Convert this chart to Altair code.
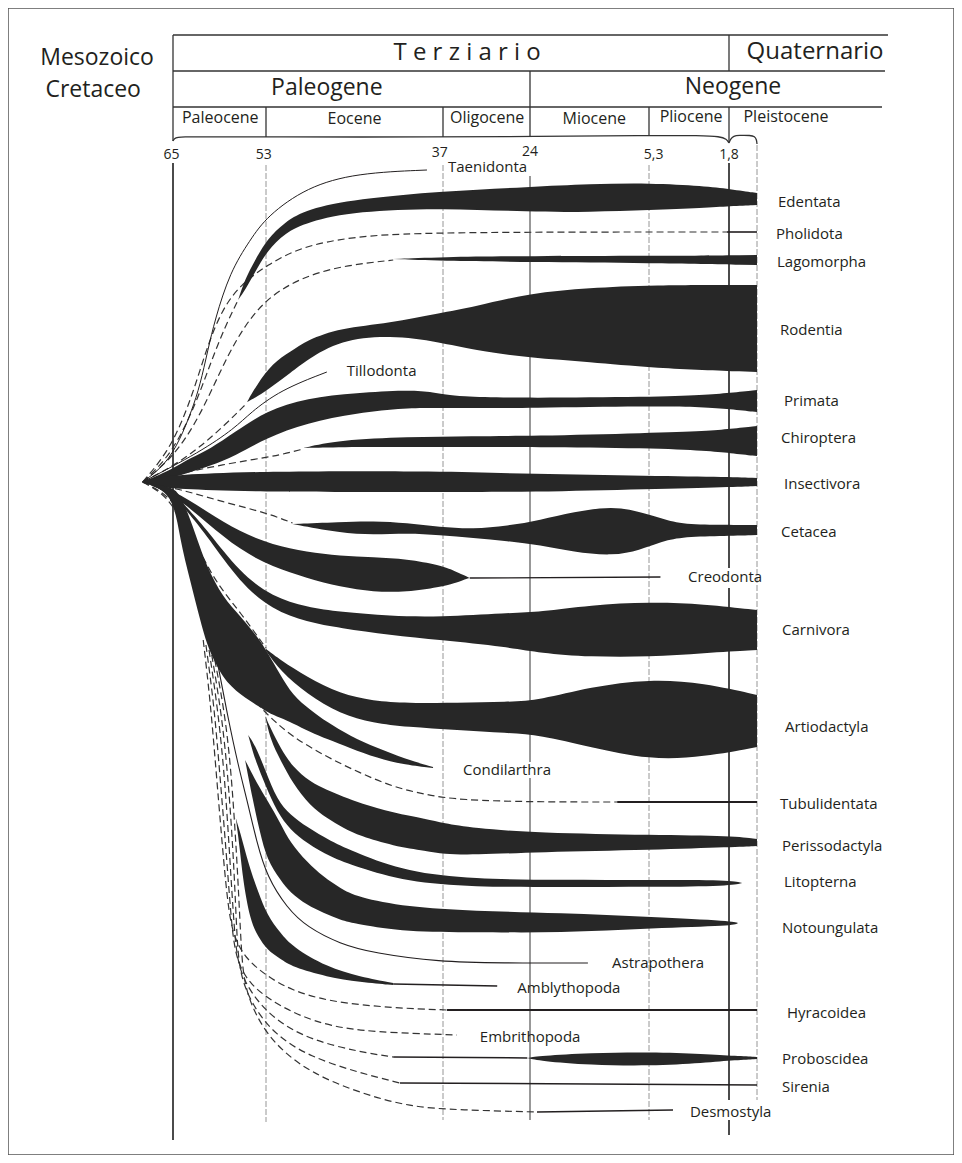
import altair as alt
import pandas as pd

INK = "#231f20"
SPINDLE = "#272727"
FONT = "Open Sans"

# ---------------- header / time scale values ----------------
TICK_T = [65.2, 53.3, 37.3, 24.0, 5.1, 1.8]
TICK_Y = [155, 155, 153, 152, 155, 155]
TICK_LABEL = ["65", "53", "37", "24", "5,3", "1,8"]

HEAD_TEXT = ["Mesozoico", "Cretaceo", "T e r z i a r i o", "Quaternario", "Paleogene", "Neogene"]
HEAD_T = [74.8, 75.3, 33.4, -4.06, 47.5, 1.54]
HEAD_Y = [58, 90, 53, 52, 88, 87]
HEAD_SIZE = [23, 23, 24, 24, 23, 23]

EPOCHS = ["Paleocene", "Eocene", "Oligocene", "Miocene", "Pliocene", "Pleistocene"]
EPOCH_T = [58.9, 45.0, 30.4, 13.9, 3.46, -2.03]
EPOCH_Y = [118, 119, 118, 119, 117, 117]

# header frame lines
HL_T1 = [65, 65, 65]
HL_T2 = [-9.16, -8.95, -8.74]
HL_Y = [35, 71, 107]
HV_T = [65, 1.8, 24, 53, 37, 5.3, 1.8]
HV_Y1 = [35, 35, 71, 107, 107, 107, 107]
HV_Y2 = [141, 71, 137, 137, 137, 135, 142]
BRACE_L = [(65.0, 141), (64.85, 138.5), (64.4, 137.2), (63.5, 136.8), (62.0, 136.8), (53, 137),
           (37, 137), (24, 136.5), (5.3, 135.5), (3.0, 135.5), (2.2, 136.5), (1.9, 139), (1.8, 143)]
BRACE_R = [(1.8, 143), (1.7, 139), (1.5, 136), (1.2, 135.3), (0.4, 135.3), (0.15, 136.5),
           (0.03, 139.5), (0.0, 144)]

# vertical time lines (time, top, bottom, style)
VL_T = [65, 53, 37, 24, 24, 5.3, 1.8, 1.8, 1.8, 0]
VL_Y1 = [163, 165, 165, 176, 778, 165, 163, 588, 1120, 145]
VL_Y2 = [1140, 1122, 1120, 762, 1120, 1120, 568, 1100, 1135, 1100]
VL_KIND = ["solid", "dotted", "dotted", "thin", "thin", "dotted", "solid", "solid", "solid", "dotted"]

# ---------------- spindles: (Ma, upper edge, lower edge) ----------------
SPINDLES = {
    "Edentata": [(56.6, 300, 300), (55.7, 279, 290), (54.4, 260, 272), (52.9, 239, 251), (51.3, 222, 233),
                 (49.3, 209, 222), (44.8, 199, 211), (37.0, 191, 208), (24.0, 187, 212), (14.6, 184, 212),
                 (5.25, 183, 210), (2.9, 186, 208), (1.75, 189, 206), (0.0, 193, 205)],
    "Lagomorpha": [(41.5, 259, 259), (37.3, 257, 261), (24.0, 256, 262), (5.25, 256, 263), (0.0, 255, 265)],
    "Rodentia": [(55.45, 402, 402), (54.2, 385, 397), (52.4, 363, 386), (50.8, 352, 373), (49.3, 340, 360),
                 (46.3, 328, 340), (41.8, 323, 335), (37.3, 313, 342), (32.5, 307, 350), (24.0, 293, 358),
                 (14.6, 288, 362), (5.25, 285, 368), (0.0, 285, 372)],
    "Primata": [(68.9, 482, 482), (65.0, 469, 478), (62.8, 458, 472), (60.2, 449, 466), (57.0, 432, 456),
                (53.0, 411, 438), (49.3, 398, 423), (44.8, 393, 413), (40.25, 390, 408), (37.9, 392, 408),
                (34.9, 397, 408), (24.0, 398, 408), (5.25, 397, 406), (2.9, 395, 407), (1.75, 393, 409),
                (0.0, 390, 412)],
    "Chiroptera": [(49.65, 448, 448), (46.3, 440, 447), (40.25, 437, 447), (32.5, 436, 447), (24.0, 436, 447),
                   (5.25, 433, 448), (2.75, 431, 451), (1.75, 429, 453), (0.0, 426, 456)],
    "Insectivora": [(68.9, 481, 483), (67.06, 478, 486), (65.0, 475, 489), (53.0, 471, 492), (37.0, 471, 492),
                    (24.0, 474, 492), (5.25, 476, 489), (1.75, 477, 487), (0.0, 478, 486)],
    "Cetacea": [(50.6, 524, 524), (46.3, 522, 533), (43.3, 521, 535), (40.25, 523, 533), (37.3, 527, 535),
                (32.5, 529, 538), (27.4, 526, 541), (22.4, 520, 545), (17.2, 512, 552), (11.0, 506, 556),
                (6.7, 512, 550), (4.8, 518, 542), (3.95, 524, 537), (2.2, 525, 536), (0.0, 525, 535)],
    "Creodonta": [(68.9, 482, 482), (65.0, 489, 494), (60.6, 512, 523), (56.35, 532, 550), (52.4, 545, 567),
                  (49.3, 552, 578), (46.3, 556, 587), (43.3, 557, 592), (40.25, 559, 592), (37.3, 565, 587),
                  (35.2, 571, 583), (34.0, 575, 580), (33.0, 578, 578)],
    "Carnivora": [(68.9, 482, 482), (65.0, 492, 494), (62.8, 511, 515), (60.6, 530, 536), (56.35, 573, 583),
                  (52.4, 597, 610), (49.3, 607, 622), (46.3, 612, 628), (41.8, 616, 635), (37.3, 617, 640),
                  (27.4, 613, 647), (22.4, 612, 653), (14.6, 605, 657), (5.25, 602, 657), (2.9, 604, 653),
                  (0.0, 610, 650)],
    "Artiodactyla": [(53.0, 649, 651), (51.7, 660, 671), (49.3, 677, 694), (46.3, 694, 714), (43.3, 701, 723),
                     (40.25, 703, 727), (34.9, 703, 730), (27.4, 702, 733), (22.4, 700, 735), (14.6, 687, 747),
                     (5.25, 679, 760), (2.9, 683, 757), (0.0, 695, 747)],
    "Condilarthra": [(68.9, 482, 482), (65.0, 487, 492), (64.1, 495, 540), (62.8, 518, 580), (61.5, 548, 620),
                     (60.6, 566, 645), (59.6, 582, 662), (58.55, 596, 677), (57.4, 607, 687), (56.35, 616, 694),
                     (55.06, 628, 701), (53.8, 640, 707), (52.9, 652, 712), (51.7, 675, 718), (50.6, 695, 723),
                     (49.0, 710, 732), (47.5, 722, 739), (45.4, 736, 748), (42.97, 748, 758), (40.4, 759, 765),
                     (37.9, 767, 768)],
    "Perissodactyla": [(53.1, 716, 716), (52.6, 728, 740), (51.7, 748, 760), (50.6, 767, 783), (49.0, 782, 806),
                       (47.5, 790, 818), (46.0, 797, 828), (44.5, 803, 836), (41.5, 813, 846), (38.45, 819, 851),
                       (37.0, 823, 854), (32.5, 828, 855), (22.9, 833, 852), (5.1, 835, 850), (1.55, 836, 847),
                       (0.0, 839, 846)],
    "Litopterna": [(55.3, 735, 735), (54.4, 745, 760), (53.1, 770, 785), (52.0, 800, 812), (50.8, 815, 830),
                   (49.3, 827, 843), (47.2, 841, 857), (44.8, 853, 867), (40.25, 872, 882), (32.5, 879, 887),
                   (19.3, 880, 887), (5.1, 880, 887), (1.75, 880, 886), (0.95, 883, 883)],
    "Notoungulata": [(55.7, 760, 760), (54.7, 775, 800), (53.8, 788, 832), (52.9, 800, 860), (51.7, 823, 880),
                     (50.8, 843, 893), (49.3, 862, 905), (47.8, 877, 913), (46.3, 888, 920), (44.8, 897, 924),
                     (40.25, 907, 932), (32.5, 911, 932), (19.3, 913, 933), (5.1, 917, 928), (1.55, 921, 926),
                     (1.22, 923, 923)],
    "Amblythopoda": [(56.9, 818, 818), (56.35, 832, 850), (55.97, 843, 880), (55.06, 869, 920), (54.0, 892, 937),
                     (52.9, 915, 950), (51.7, 933, 959), (50.6, 947, 967), (47.5, 967, 977), (44.5, 977, 982),
                     (41.5, 983, 985)],
    "Proboscidea": [(24.4, 1058, 1058), (22.4, 1056, 1061), (14.6, 1053, 1065), (5.25, 1052, 1066),
                    (2.9, 1054, 1063), (1.3, 1056, 1060), (0.0, 1057, 1059)],
}

# ---------------- dashed connections: (Ma, lane) ----------------
DASHED = {
    "Edentata": [(68.9, 482), (65.65, 458), (63.3, 425), (61.5, 392), (60.0, 360), (58.3, 327), (56.6, 300)],
    "Pholidota": [(68.9, 482), (65.65, 452), (63.45, 415), (61.9, 380), (60.5, 345), (58.7, 310), (56.35, 285),
                  (52.9, 265), (49.9, 247), (45.4, 237), (39.1, 232), (1.9, 232)],
    "Lagomorpha": [(68.9, 482), (65.1, 458), (62.2, 425), (60.0, 390), (57.9, 355), (55.7, 325), (52.9, 298),
                   (49.9, 278), (46.3, 266), (41.5, 260)],
    "Rodentia": [(68.9, 482), (64.75, 465), (61.5, 447), (58.3, 425), (55.45, 403)],
    "Chiroptera": [(68.9, 482), (64.75, 475), (60.2, 467), (55.06, 460), (51.7, 455), (49.65, 449)],
    "Cetacea": [(68.9, 482), (64.1, 489), (58.55, 502), (52.9, 513), (50.6, 523)],
    "Artiodactyla": [(68.9, 482), (65.1, 497), (62.8, 530), (60.9, 562), (58.9, 588), (56.35, 612), (53.0, 648)],
    "Tubulidentata": [(68.9, 482), (64.75, 500), (62.2, 560), (59.6, 630), (56.35, 685), (52.8, 716), (50.6, 737),
                      (47.5, 757), (44.5, 773), (41.5, 787), (38.45, 795), (34.5, 800), (23.5, 802), (10.3, 802)],
    "Hyracoidea": [(61.1, 640), (60.2, 700), (59.45, 770), (58.7, 840), (58.0, 900), (57.3, 935), (55.7, 958),
                   (53.1, 975), (50.8, 990), (47.2, 1002), (41.5, 1008), (36.4, 1010)],
    "Embrithopoda": [(60.75, 645), (59.7, 705), (58.95, 775), (58.15, 850), (57.5, 920), (56.9, 960), (55.06, 985),
                     (52.2, 1003), (49.9, 1016), (47.2, 1026), (43.6, 1032), (34.9, 1035)],
    "Proboscidea": [(60.35, 650), (59.2, 710), (58.3, 780), (57.65, 860), (57.1, 930), (56.6, 968), (54.8, 995),
                    (52.2, 1020), (49.0, 1040), (44.5, 1052), (41.5, 1057)],
    "Sirenia": [(60.0, 655), (58.7, 715), (57.8, 785), (57.1, 870), (56.75, 940), (56.35, 975), (54.8, 1005),
                (52.2, 1035), (49.0, 1057), (44.5, 1073), (40.9, 1083)],
    "Desmostyla": [(59.6, 660), (58.15, 720), (57.3, 790), (56.6, 880), (56.2, 950), (55.8, 985), (54.4, 1015),
                   (52.2, 1045), (49.0, 1073), (44.5, 1093), (40.0, 1107), (34.5, 1110), (22.9, 1112)],
}

# ---------------- solid thin lineages: (points, line width) ----------------
SOLID = {
    "Taenidonta": ([(68.9, 482), (66.0, 465), (64.1, 440), (62.55, 410), (61.5, 385), (60.5, 350), (59.6, 320),
                    (57.65, 272), (55.06, 240), (52.9, 216), (49.3, 187), (44.8, 173), (38.45, 170)], 1.0),
    "Tillodonta": ([(68.9, 482), (61.5, 452), (57.0, 428), (55.06, 413), (51.7, 390), (47.5, 372)], 1.0),
    "Creodonta tail": ([(33.0, 578), (4.8, 577)], 1.3),
    "Astrapothera": ([(59.2, 665), (57.9, 718), (56.6, 765), (55.45, 800), (54.2, 842), (52.9, 877), (51.1, 908),
                      (49.3, 927), (46.3, 944), (43.3, 953), (37.3, 962), (28.5, 963), (14.9, 963)], 1.1),
    "Amblythopoda tail": ([(41.5, 984), (28.9, 986)], 1.5),
    "Pholidota end": ([(1.9, 232), (0.0, 232)], 1.6),
    "Tubulidentata end": ([(10.3, 802), (0.0, 802)], 2.0),
    "Hyracoidea end": ([(36.4, 1010), (0.0, 1010)], 2.0),
    "Proboscidea stem": ([(41.5, 1057), (24.4, 1058)], 1.5),
    "Sirenia end": ([(40.9, 1083), (0.0, 1085)], 1.5),
    "Desmostyla end": ([(22.9, 1112), (4.25, 1110)], 1.5),
}

# ---------------- labels ----------------
RIGHT_LABELS = ["Edentata", "Pholidota", "Lagomorpha", "Rodentia", "Primata", "Chiroptera", "Insectivora",
                "Cetacea", "Carnivora", "Artiodactyla", "Tubulidentata", "Perissodactyla", "Litopterna",
                "Notoungulata", "Hyracoidea", "Proboscidea", "Sirenia"]
RIGHT_T = [-1.47, -1.33, -1.40, -1.61, -1.89, -1.68, -1.89, -1.68, -1.75, -1.96, -1.61, -1.75, -1.89,
           -1.75, -2.10, -1.75, -1.75]
RIGHT_Y = [202, 234, 262, 330, 401, 438, 484, 532, 630, 727, 804, 846, 882, 928, 1013, 1059, 1087]

INNER_LABELS = ["Taenidonta", "Tillodonta", "Creodonta", "Condilarthra", "Astrapothera", "Amblythopoda",
                "Embrithopoda", "Desmostyla"]
INNER_T = [36.25, 45.7, 3.59, 34.0, 11.1, 25.9, 31.5, 3.51]
INNER_Y = [167, 371, 577, 770, 963, 988, 1037, 1112]

# ---------------- scales ----------------
XS = alt.Scale(domain=[70, 65, 53, 37, 24, 5.3, 1.8, 0, -10],
               range=[126.25, 165, 258, 435, 522, 641, 721, 749, 892], nice=False, zero=False)
YS = alt.Scale(domain=[8, 1155], range=[0, 1147], nice=False, zero=False)


def X(f):
    return alt.X(f"{f}:Q", scale=XS, axis=None)


def Y(f):
    return alt.Y(f"{f}:Q", scale=YS, axis=None)


# ---------------- data frames ----------------
sp = pd.DataFrame([dict(name=n, i=i, t=t, top=a, bot=b)
                   for n, pts in SPINDLES.items() for i, (t, a, b) in enumerate(pts)])
dash = pd.DataFrame([dict(name=n, i=i, t=t, y=y)
                     for n, pts in DASHED.items() for i, (t, y) in enumerate(pts)])
sol = pd.DataFrame([dict(name=n, i=i, t=t, y=y, w=w)
                    for n, (pts, w) in SOLID.items() for i, (t, y) in enumerate(pts)])
vl = pd.DataFrame(dict(t=VL_T, y1=VL_Y1, y2=VL_Y2, kind=VL_KIND))
hl = pd.DataFrame(dict(t1=HL_T1, t2=HL_T2, y=HL_Y))
hv = pd.DataFrame(dict(t=HV_T, y1=HV_Y1, y2=HV_Y2))
br = pd.DataFrame([dict(name="L", i=i, t=t, y=y) for i, (t, y) in enumerate(BRACE_L)] +
                  [dict(name="R", i=i, t=t, y=y) for i, (t, y) in enumerate(BRACE_R)])
ticks = pd.DataFrame(dict(label=TICK_LABEL, t=TICK_T, y=TICK_Y))
heads = pd.DataFrame(dict(label=HEAD_TEXT, t=HEAD_T, y=HEAD_Y, fs=HEAD_SIZE))
epochs = pd.DataFrame(dict(label=EPOCHS, t=EPOCH_T, y=EPOCH_Y))
right = pd.DataFrame(dict(label=RIGHT_LABELS, t=RIGHT_T, y=RIGHT_Y))
inner = pd.DataFrame(dict(label=INNER_LABELS, t=INNER_T, y=INNER_Y))

# ---------------- layers ----------------
v_dotted = alt.Chart(vl[vl.kind == "dotted"]).mark_rule(color="#8a8a8a", strokeWidth=0.9, strokeDash=[6, 2]).encode(
    x=X("t"), y=Y("y1"), y2="y2:Q")
v_solid = alt.Chart(vl[vl.kind == "solid"]).mark_rule(color="#1e1e1e", strokeWidth=1.6).encode(
    x=X("t"), y=Y("y1"), y2="y2:Q")
v_thin = alt.Chart(vl[vl.kind == "thin"]).mark_rule(color="#333333", strokeWidth=1.0).encode(
    x=X("t"), y=Y("y1"), y2="y2:Q")

dashed = alt.Chart(dash).mark_line(interpolate="basis", color="#333333", strokeWidth=1.2,
                                   strokeDash=[7, 4]).encode(
    x=X("t"), y=Y("y"), detail="name:N", order="i:Q")
solid = alt.Chart(sol).mark_line(interpolate="basis", color=INK).encode(
    x=X("t"), y=Y("y"), detail="name:N", order="i:Q", strokeWidth=alt.StrokeWidth("w:Q", scale=None))

areas = alt.Chart(sp).mark_area(interpolate="basis", color=SPINDLE).encode(
    x=X("t"), y=Y("top"), y2="bot:Q", detail="name:N")

h_lines = alt.Chart(hl).mark_rule(color="#333333", strokeWidth=1.3).encode(x=X("t1"), x2="t2:Q", y=Y("y"))
h_vert = alt.Chart(hv).mark_rule(color="#333333", strokeWidth=1.3).encode(x=X("t"), y=Y("y1"), y2="y2:Q")
brace = alt.Chart(br).mark_line(interpolate="basis", color="#333333", strokeWidth=1.3).encode(
    x=X("t"), y=Y("y"), detail="name:N", order="i:Q")

t_ticks = alt.Chart(ticks).mark_text(font=FONT, fontSize=14, color=INK, baseline="middle", align="center").encode(
    x=X("t"), y=Y("y"), text="label:N")
t_heads = alt.Chart(heads).mark_text(font=FONT, color=INK, baseline="middle", align="center").encode(
    x=X("t"), y=Y("y"), text="label:N", size=alt.Size("fs:Q", scale=None))
t_epochs = alt.Chart(epochs).mark_text(font=FONT, fontSize=16, color=INK, baseline="middle", align="center").encode(
    x=X("t"), y=Y("y"), text="label:N")
t_right = alt.Chart(right).mark_text(font=FONT, fontSize=15, color=INK, baseline="middle", align="left").encode(
    x=X("t"), y=Y("y"), text="label:N")
t_inner = alt.Chart(inner).mark_text(font=FONT, fontSize=15, color=INK, baseline="middle", align="left").encode(
    x=X("t"), y=Y("y"), text="label:N")

chart = alt.layer(
    v_dotted, v_thin, v_solid, dashed, solid, areas,
    h_lines, h_vert, brace, t_ticks, t_heads, t_epochs, t_right, t_inner
).properties(
    width=946, height=1147, padding=0, autosize=alt.AutoSizeParams(type="none")
).configure_view(stroke="#555555", strokeWidth=1.5)

chart.save("out.html", embed_options={"renderer": "svg", "actions": False})
